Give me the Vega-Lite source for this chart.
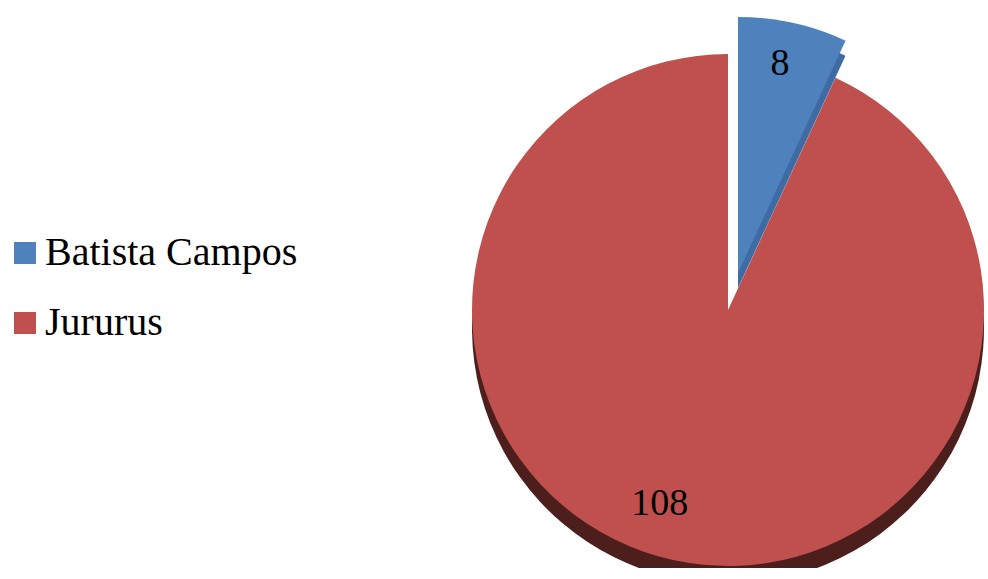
{
  "$schema": "https://vega.github.io/schema/vega-lite/v6.json",
  "width": 516,
  "height": 516,
  "autosize": {"type": "none"},
  "padding": {"left": 470, "top": 52, "right": 0, "bottom": 0},
  "background": "white",
  "view": {"stroke": null},
  "data": {"values": [
    {"category": "Batista Campos", "value": 8},
    {"category": "Jururus", "value": 108}
  ]},
  "encoding": {
    "theta": {"field": "value", "type": "quantitative", "stack": true},
    "order": {"field": "category", "sort": "ascending"}
  },
  "layer": [
    {
      "mark": {"type": "arc", "radius": 256, "yOffset": 18},
      "encoding": {
        "color": {"value": "#4C1F1D"},
        "opacity": {"condition": {"test": "datum.category === 'Jururus'", "value": 1}, "value": 0}
      }
    },
    {
      "mark": {"type": "arc", "radius": 256},
      "encoding": {
        "color": {"field": "category", "type": "nominal",
          "scale": {"domain": ["Batista Campos", "Jururus"], "range": ["#4F81BD", "#C0504D"]},
          "legend": {
            "title": null, "orient": "none", "legendX": -465, "legendY": 181,
            "symbolType": "square", "symbolSize": 484, "symbolStrokeWidth": 0,
            "labelFont": "Liberation Serif", "labelFontSize": 40, "labelColor": "#000000",
            "labelOffset": 0, "rowPadding": 30, "labelLimit": 500
          }
        },
        "opacity": {"condition": {"test": "datum.category === 'Jururus'", "value": 1}, "value": 0}
      }
    },
    {
      "mark": {"type": "arc", "radius": 256, "xOffset": 10, "yOffset": -22},
      "encoding": {
        "color": {"value": "#3E6BA3"},
        "opacity": {"condition": {"test": "datum.category === 'Batista Campos'", "value": 1}, "value": 0}
      }
    },
    {
      "mark": {"type": "arc", "radius": 256, "xOffset": 10, "yOffset": -37},
      "encoding": {
        "color": {"field": "category", "type": "nominal"},
        "opacity": {"condition": {"test": "datum.category === 'Batista Campos'", "value": 1}, "value": 0}
      }
    },
    {
      "mark": {"type": "text", "radius": 205, "xOffset": 8, "yOffset": -46, "font": "Liberation Serif", "fontSize": 38, "color": "#000000", "align": "center", "baseline": "middle"},
      "encoding": {
        "text": {"field": "value", "type": "quantitative"},
        "opacity": {"condition": {"test": "datum.category === 'Batista Campos'", "value": 1}, "value": 0}
      }
    },
    {
      "mark": {"type": "text", "radius": 206, "xOffset": -24, "yOffset": -7, "font": "Liberation Serif", "fontSize": 38, "color": "#000000", "align": "center", "baseline": "middle"},
      "encoding": {
        "text": {"field": "value", "type": "quantitative"},
        "opacity": {"condition": {"test": "datum.category === 'Jururus'", "value": 1}, "value": 0}
      }
    }
  ]
}
